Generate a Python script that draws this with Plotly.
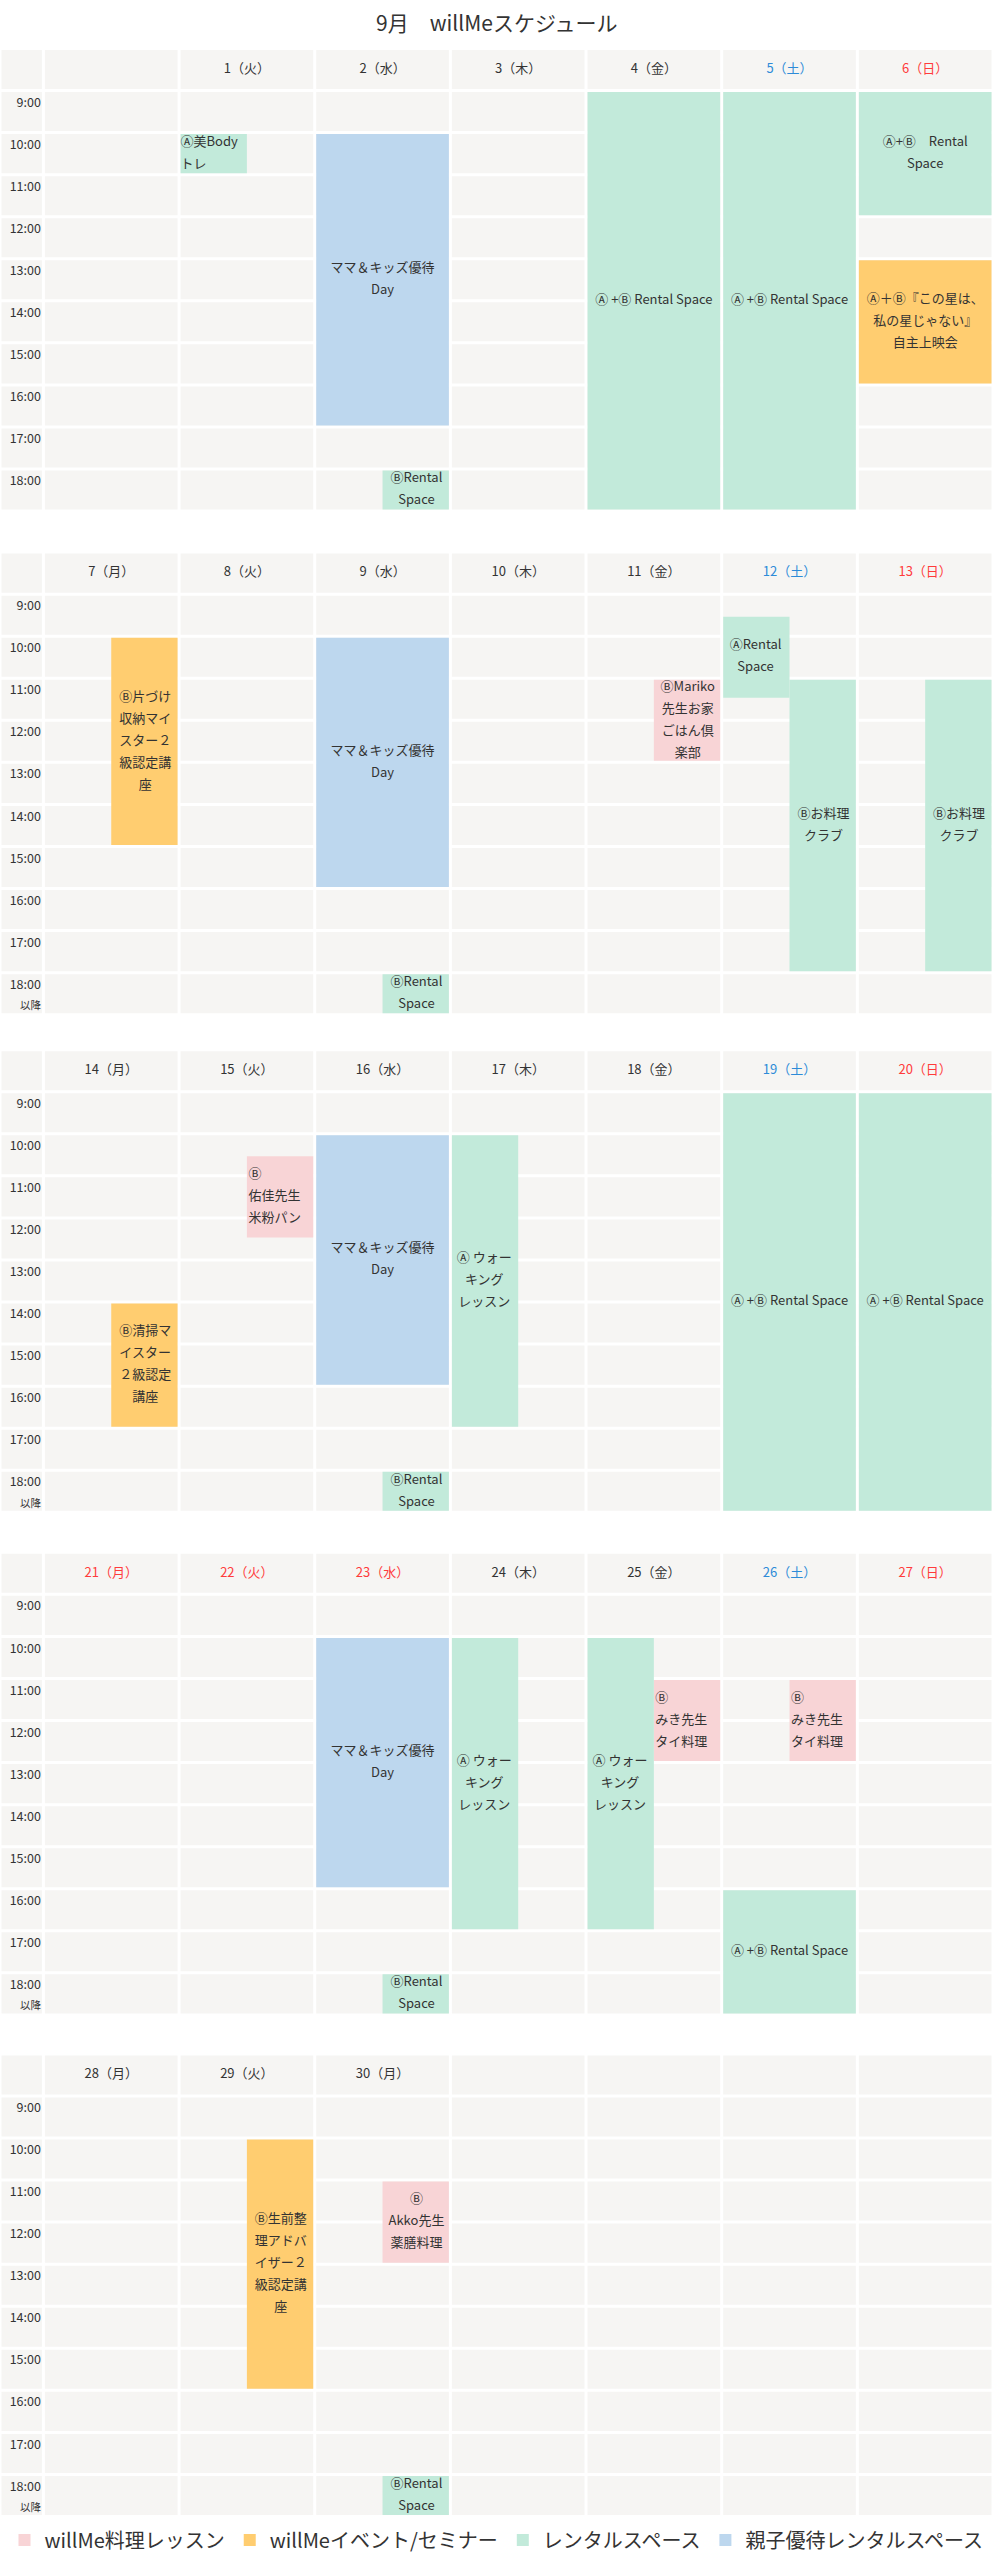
import plotly.graph_objects as go

# ------------------------------------------------------------------ data
TITLE = "9月　willMeスケジュール"

HOUR_STARTS = [9, 10, 11, 12, 13, 14, 15, 16, 17, 18]
HOUR_LABELS = ["9:00", "10:00", "11:00", "12:00", "13:00",
               "14:00", "15:00", "16:00", "17:00", "18:00"]
LAST_ROW_NOTE = ["", "以降", "以降", "以降", "以降"]
DAY_END = 19

WEEK1_DAYS = ["", "1（火）", "2（水）", "3（木）", "4（金）", "5（土）", "6（日）"]
WEEK2_DAYS = ["7（月）", "8（火）", "9（水）", "10（木）", "11（金）", "12（土）", "13（日）"]
WEEK3_DAYS = ["14（月）", "15（火）", "16（水）", "17（木）", "18（金）", "19（土）", "20（日）"]
WEEK4_DAYS = ["21（月）", "22（火）", "23（水）", "24（木）", "25（金）", "26（土）", "27（日）"]
WEEK5_DAYS = ["28（月）", "29（火）", "30（月）", "", "", "", ""]
WEEKS = [WEEK1_DAYS, WEEK2_DAYS, WEEK3_DAYS, WEEK4_DAYS, WEEK5_DAYS]
HOLIDAYS = ["21（月）", "22（火）", "23（水）"]

CATEGORIES = ["willMe料理レッスン", "willMeイベント/セミナー",
              "レンタルスペース", "親子優待レンタルスペース"]

MAMA = "ママ＆キッズ優待\nDay"
RENT_B = "ⒷRental\nSpace"
RENT_AB = "Ⓐ +Ⓑ Rental Space"
WALK = "Ⓐ ウォー\nキング\nレッスン"
COOK = "Ⓑお料理\nクラブ"
MIKI = "Ⓑ\nみき先生\nタイ料理"

EV_WEEK = [0, 0, 0, 0, 0, 0, 0,
           1, 1, 1, 1, 1, 1, 1,
           2, 2, 2, 2, 2, 2, 2,
           3, 3, 3, 3, 3, 3, 3,
           4, 4, 4]
EV_DAY = [1, 2, 2, 4, 5, 6, 6,
          0, 2, 2, 4, 5, 5, 6,
          0, 1, 2, 2, 3, 5, 6,
          2, 2, 3, 4, 4, 5, 5,
          1, 2, 2]
EV_START = [10, 10, 18, 9, 9, 9, 13,
            10, 10, 18, 11, 9.5, 11, 11,
            14, 10.5, 10, 18, 10, 9, 9,
            10, 18, 10, 10, 11, 11, 16,
            10, 11, 18]
EV_END = [11, 17, 19, 19, 19, 12, 16,
          15, 16, 19, 13, 11.5, 18, 18,
          17, 12.5, 16, 19, 17, 19, 19,
          16, 19, 17, 17, 13, 13, 19,
          16, 13, 19]
EV_SLOT = ["left", "full", "right", "full", "full", "full", "full",
           "right", "full", "right", "right", "left", "right", "right",
           "right", "right", "full", "right", "left", "full", "full",
           "full", "right", "left", "left", "right", "right", "full",
           "right", "right", "right"]
EV_CAT = [2, 3, 2, 2, 2, 2, 1,
          1, 3, 2, 0, 2, 2, 2,
          1, 0, 3, 2, 2, 2, 2,
          3, 2, 2, 2, 0, 0, 2,
          1, 0, 2]
EV_LABEL = ["Ⓐ美Body\nトレ", MAMA, RENT_B, RENT_AB, RENT_AB,
            "Ⓐ+Ⓑ　Rental\nSpace", "Ⓐ＋Ⓑ『この星は、\n私の星じゃない』\n自主上映会",
            "Ⓑ片づけ\n収納マイ\nスター２\n級認定講\n座", MAMA, RENT_B,
            "ⒷMariko\n先生お家\nごはん倶\n楽部", "ⒶRental\nSpace", COOK, COOK,
            "Ⓑ清掃マ\nイスター\n２級認定\n講座", "Ⓑ\n佑佳先生\n米粉パン", MAMA, RENT_B,
            WALK, RENT_AB, RENT_AB,
            MAMA, RENT_B, WALK, WALK, MIKI, MIKI, RENT_AB,
            "Ⓑ生前整\n理アドバ\nイザー２\n級認定講\n座", "Ⓑ\nAkko先生\n薬膳料理", RENT_B]

# ------------------------------------------------------------------ style / layout
W, H = 993, 2560
FONT = "Noto Sans CJK JP"
TEXT_COLOR = "#333333"
SAT_COLOR = "#2d8bd8"
SUN_COLOR = "#ff3b3b"
CELL_COLOR = "#f6f5f3"
CAT_COLORS = ["#f8d4d6", "#ffcd70", "#c2eada", "#bdd7ee"]
LEFT_ALIGNED = {"Ⓐ美Body\nトレ", "Ⓑ\n佑佳先生\n米粉パン", MIKI}

TIME_W = 0.32            # width of time column in day units
HEADER_TOP = 8           # header row spans [8, 9]
X_RANGE = [-TIME_W, 7]
PXX = W / (X_RANGE[1] - X_RANGE[0])
BLOCK_PX = 463
PXY = BLOCK_PX / (DAY_END - HEADER_TOP)
GX = 1.5 / PXX
GY = 1.5 / PXY
LINE_H = 22 / PXY
WEEK_TOP_PX = [48.5, 552.5, 1050.5, 1553.5, 2055.5]

fig = go.Figure()
legend_done = set()
layout_axes = {}

for w, days in enumerate(WEEKS):
    xa = "x" if w == 0 else f"x{w + 1}"
    ya = "y" if w == 0 else f"y{w + 1}"

    # --- background cells
    row_tops = [HEADER_TOP] + HOUR_STARTS
    row_bottoms = HOUR_STARTS + [DAY_END]
    cx, coff, cwid, cbase, chgt = [], [], [], [], []
    for col in range(-1, 7):
        left = -TIME_W if col == -1 else col
        right = 0 if col == -1 else col + 1
        for top, bot in zip(row_tops, row_bottoms):
            cx.append(left)
            coff.append(GX)
            cwid.append(right - left - 2 * GX)
            cbase.append(top + GY)
            chgt.append(bot - top - 2 * GY)
    fig.add_trace(go.Bar(x=cx, y=chgt, base=cbase, offset=coff, width=cwid,
                         marker=dict(color=CELL_COLOR, line=dict(width=0)),
                         hoverinfo="skip", showlegend=False,
                         xaxis=xa, yaxis=ya))

    # --- events
    idx = [i for i in range(len(EV_WEEK)) if EV_WEEK[i] == w]
    for c, cat in enumerate(CATEGORIES):
        sel = [i for i in idx if EV_CAT[i] == c]
        if not sel:
            continue
        ex, eoff, ewid, ebase, ehgt = [], [], [], [], []
        for i in sel:
            slot = EV_SLOT[i]
            if slot == "full":
                x0, x1 = EV_DAY[i] + GX, EV_DAY[i] + 1 - GX
            elif slot == "left":
                x0, x1 = EV_DAY[i] + GX, EV_DAY[i] + 0.5
            else:
                x0, x1 = EV_DAY[i] + 0.5, EV_DAY[i] + 1 - GX
            ex.append(EV_DAY[i])
            eoff.append(x0 - EV_DAY[i])
            ewid.append(x1 - x0)
            ebase.append(EV_START[i] + GY)
            ehgt.append(EV_END[i] - EV_START[i] - 2 * GY)
        show = c not in legend_done
        legend_done.add(c)
        fig.add_trace(go.Bar(x=ex, y=ehgt, base=ebase, offset=eoff, width=ewid,
                             marker=dict(color=CAT_COLORS[c], line=dict(width=0)),
                             name=cat, legendgroup=cat, showlegend=show,
                             legendrank=c + 1, hoverinfo="skip",
                             xaxis=xa, yaxis=ya))

    # --- event labels
    cxs, cys, cts = [], [], []
    lxs, lys, lts = [], [], []
    for i in idx:
        slot = EV_SLOT[i]
        if slot == "full":
            x0, x1 = EV_DAY[i], EV_DAY[i] + 1
        elif slot == "left":
            x0, x1 = EV_DAY[i], EV_DAY[i] + 0.5
        else:
            x0, x1 = EV_DAY[i] + 0.5, EV_DAY[i] + 1
        lines = EV_LABEL[i].split("\n")
        ymid = (EV_START[i] + EV_END[i]) / 2
        for k, line in enumerate(lines):
            yy = ymid + (k - (len(lines) - 1) / 2) * LINE_H
            if EV_LABEL[i] in LEFT_ALIGNED:
                lxs.append(x0 + 1.5 / PXX)
                lys.append(yy)
                lts.append(line)
            else:
                cxs.append((x0 + x1) / 2)
                cys.append(yy)
                cts.append(line)
    fig.add_trace(go.Scatter(x=cxs, y=cys, text=cts, mode="text",
                             textposition="middle center",
                             textfont=dict(family=FONT, size=13, color=TEXT_COLOR),
                             hoverinfo="skip", showlegend=False, cliponaxis=False,
                             xaxis=xa, yaxis=ya))
    if lxs:
        fig.add_trace(go.Scatter(x=lxs, y=lys, text=lts, mode="text",
                                 textposition="middle right",
                                 textfont=dict(family=FONT, size=13, color=TEXT_COLOR),
                                 hoverinfo="skip", showlegend=False, cliponaxis=False,
                                 xaxis=xa, yaxis=ya))

    # --- day headers
    hcolors = []
    for d, lab in enumerate(days):
        if lab in HOLIDAYS or d == 6:
            hcolors.append(SUN_COLOR)
        elif d == 5:
            hcolors.append(SAT_COLOR)
        else:
            hcolors.append(TEXT_COLOR)
    fig.add_trace(go.Scatter(x=[d + 0.5 for d in range(7)],
                             y=[(HEADER_TOP + HOUR_STARTS[0]) / 2] * 7,
                             text=days, mode="text", textposition="middle center",
                             textfont=dict(family=FONT, size=13, color=hcolors),
                             hoverinfo="skip", showlegend=False, cliponaxis=False,
                             xaxis=xa, yaxis=ya))

    # --- hour labels
    tx = -2.5 / PXX
    fig.add_trace(go.Scatter(x=[tx] * len(HOUR_STARTS),
                             y=[h + 13 / PXY for h in HOUR_STARTS],
                             text=HOUR_LABELS, mode="text", textposition="middle left",
                             textfont=dict(family=FONT, size=12.5, color=TEXT_COLOR),
                             hoverinfo="skip", showlegend=False, cliponaxis=False,
                             xaxis=xa, yaxis=ya))
    if LAST_ROW_NOTE[w]:
        fig.add_trace(go.Scatter(x=[tx], y=[HOUR_STARTS[-1] + 34 / PXY],
                                 text=[LAST_ROW_NOTE[w]], mode="text",
                                 textposition="middle left",
                                 textfont=dict(family=FONT, size=10.5, color=TEXT_COLOR),
                                 hoverinfo="skip", showlegend=False, cliponaxis=False,
                                 xaxis=xa, yaxis=ya))

    top = WEEK_TOP_PX[w]
    xkey = "xaxis" if w == 0 else f"xaxis{w + 1}"
    ykey = "yaxis" if w == 0 else f"yaxis{w + 1}"
    layout_axes[xkey] = dict(range=X_RANGE, domain=[0, 1], anchor=ya,
                             visible=False, fixedrange=True)
    layout_axes[ykey] = dict(range=[DAY_END, HEADER_TOP],
                             domain=[1 - (top + BLOCK_PX) / H, 1 - top / H],
                             anchor=xa, visible=False, fixedrange=True)

fig.update_layout(
    width=W, height=H,
    margin=dict(l=0, r=0, t=0, b=0),
    paper_bgcolor="white", plot_bgcolor="white",
    barmode="overlay",
    font=dict(family=FONT, color=TEXT_COLOR),
    showlegend=True,
    legend=dict(orientation="h", x=0.5, xanchor="center",
                y=1 - 2542 / H, yanchor="middle",
                font=dict(family=FONT, size=20, color=TEXT_COLOR),
                bgcolor="rgba(0,0,0,0)", itemclick=False, itemdoubleclick=False),
    annotations=[dict(text=TITLE, x=0.5, y=1 - 22 / H, xref="paper", yref="paper",
                      xanchor="center", yanchor="middle", showarrow=False,
                      font=dict(family=FONT, size=21, color=TEXT_COLOR))],
    **layout_axes,
)

fig.write_html("out.html",
               config={"displayModeBar": False},
               post_script="document.body.style.margin='0';"
                           "document.body.style.overflow='hidden';")
